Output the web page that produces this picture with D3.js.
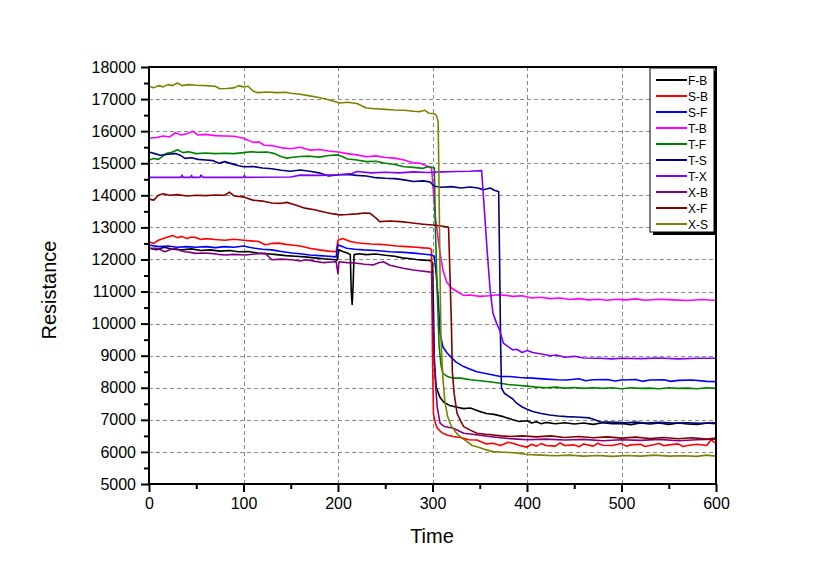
<!DOCTYPE html>
<html>
<head>
<meta charset="utf-8">
<script src="https://cdn.jsdelivr.net/npm/d3@7"></script>
<style>
  body { margin: 0; background: #fff; }
  svg { display: block; font-family: Arial, "Liberation Sans", sans-serif; }
</style>
</head>
<body>
<svg id="chart" width="832" height="581"></svg>
<script>
// ---------- data ----------
const seriesNames = ["F-B", "S-B", "S-F", "T-B", "T-F", "T-S", "T-X", "X-B", "X-F", "X-S"];
const seriesColors = ["#000000", "#FF0000", "#0000FF", "#FF00FF", "#008000", "#000080", "#8000FF", "#800080", "#800000", "#808000"];
const xTicks = [0, 100, 200, 300, 400, 500, 600];
const yTicks = [5000, 6000, 7000, 8000, 9000, 10000, 11000, 12000, 13000, 14000, 15000, 16000, 17000, 18000];

const FB = [[0,12350],[8,12300],[16,12380],[25,12320],[35,12300],[45,12330],[55,12280],[65,12300],[75,12260],[85,12280],[95,12240],[105,12250],[115,12200],[125,12180],[135,12150],[145,12120],[155,12100],[165,12080],[175,12050],[185,12020],[195,12000],[199,11980],[201,12300],[205,12250],[210,12200],[213,12150],[214,11000],[215,10600],[216,11200],[217,12150],[222,12180],[230,12150],[240,12170],[250,12130],[260,12100],[268,12050],[275,12030],[283,12000],[290,11980],[297,11970],[300,11900],[301,10500],[302,8800],[304,8000],[306,7850],[308,7700],[312,7550],[318,7450],[325,7400],[333,7350],[340,7370],[348,7280],[357,7200],[365,7170],[375,7100],[385,7000],[392,6950],[400,6970],[405,6900],[410,6940],[415,6880],[420,6920],[430,6880],[440,6910],[450,6870],[460,6900],[470,6860],[480,6910],[490,6880],[500,6890],[510,6850],[520,6900],[530,6870],[540,6900],[550,6860],[560,6900],[570,6870],[580,6860],[590,6900],[600,6880]];
const SB = [[0,12550],[5,12500],[10,12600],[15,12650],[20,12700],[25,12750],[30,12680],[35,12720],[40,12650],[45,12700],[50,12680],[55,12620],[60,12650],[70,12620],[80,12600],[90,12630],[100,12600],[108,12580],[116,12560],[123,12460],[130,12500],[137,12510],[145,12470],[151,12450],[160,12420],[170,12350],[180,12300],[190,12260],[198,12240],[200,12600],[205,12650],[213,12560],[220,12520],[227,12500],[235,12480],[245,12470],[252,12450],[262,12420],[273,12400],[283,12380],[290,12360],[297,12350],[299,12300],[300,9000],[301,7200],[303,6900],[305,6750],[308,6650],[311,6580],[316,6520],[322,6480],[330,6450],[338,6380],[347,6370],[357,6250],[364,6270],[372,6200],[380,6300],[385,6270],[392,6200],[400,6150],[405,6240],[410,6180],[415,6260],[420,6200],[430,6180],[435,6280],[440,6200],[450,6220],[455,6160],[460,6250],[470,6180],[475,6270],[480,6210],[490,6200],[500,6260],[505,6180],[510,6220],[520,6240],[525,6170],[530,6200],[540,6260],[545,6190],[550,6220],[560,6250],[565,6170],[570,6200],[580,6240],[590,6200],[595,6380],[600,6250]];
const SF = [[0,12450],[10,12400],[20,12420],[30,12380],[40,12400],[50,12380],[60,12400],[70,12370],[80,12400],[90,12380],[100,12420],[106,12380],[112,12350],[120,12320],[130,12300],[140,12250],[151,12200],[160,12180],[170,12140],[180,12120],[190,12100],[198,12080],[200,12450],[205,12400],[209,12350],[218,12320],[227,12300],[240,12280],[255,12240],[270,12220],[283,12190],[292,12160],[299,12140],[302,12100],[304,11500],[306,10800],[308,9700],[311,9280],[315,9100],[319,8970],[325,8800],[333,8660],[340,8580],[347,8500],[355,8450],[364,8400],[372,8350],[382,8350],[392,8320],[406,8300],[420,8270],[432,8250],[442,8240],[455,8280],[462,8220],[470,8250],[485,8260],[493,8210],[500,8240],[515,8260],[522,8200],[530,8240],[545,8250],[552,8200],[560,8230],[575,8240],[590,8200],[600,8190]];
const TB = [[0,15780],[8,15800],[15,15850],[22,15820],[28,15950],[34,15880],[40,15920],[46,16000],[52,15880],[60,15900],[70,15860],[80,15850],[90,15840],[100,15780],[105,15720],[110,15650],[117,15660],[122,15560],[130,15550],[140,15480],[150,15450],[160,15500],[170,15410],[180,15430],[190,15380],[200,15350],[210,15300],[220,15260],[230,15200],[240,15230],[250,15180],[260,15160],[270,15100],[280,15010],[287,15000],[295,14900],[299,14850],[303,13330],[307,12400],[311,11670],[315,11300],[320,11110],[326,11000],[333,10880],[340,10890],[350,10850],[360,10870],[370,10900],[378,10880],[385,10850],[395,10870],[405,10800],[415,10820],[425,10780],[435,10800],[445,10750],[455,10780],[465,10740],[475,10760],[485,10730],[495,10760],[505,10740],[515,10770],[525,10730],[540,10760],[555,10740],[570,10720],[585,10750],[600,10720]];
const TF = [[0,15100],[5,15150],[10,15120],[18,15300],[25,15350],[30,15420],[36,15330],[42,15360],[50,15300],[60,15320],[70,15300],[80,15310],[90,15300],[100,15330],[108,15360],[115,15340],[125,15350],[133,15300],[140,15200],[146,15160],[150,15180],[160,15210],[170,15220],[180,15190],[190,15240],[200,15260],[205,15200],[210,15130],[220,15100],[230,15050],[240,15060],[250,15000],[260,14960],[270,14890],[280,14870],[290,14840],[296,14900],[302,14850],[303,13000],[305,11000],[307,9300],[309,8700],[311,8450],[316,8350],[322,8300],[330,8300],[340,8250],[350,8220],[360,8190],[370,8150],[380,8100],[390,8080],[400,8050],[410,8020],[420,8000],[430,8020],[440,7990],[450,8010],[460,7980],[470,8000],[480,7980],[490,8000],[500,7970],[510,8000],[520,7980],[530,7990],[540,7970],[550,8000],[560,7980],[570,7990],[580,7970],[590,8000],[600,7980]];
const TS = [[0,15350],[6,15300],[12,15250],[20,15280],[28,15300],[33,15250],[38,15150],[45,15170],[52,15120],[60,15100],[68,15080],[74,15000],[80,15050],[88,14980],[95,14920],[100,14890],[110,14900],[120,14850],[130,14830],[140,14780],[150,14750],[160,14790],[170,14750],[180,14700],[190,14600],[200,14640],[210,14650],[220,14620],[230,14600],[240,14550],[250,14530],[260,14520],[270,14480],[280,14430],[290,14450],[297,14420],[299,14370],[302,14280],[310,14250],[320,14270],[330,14230],[340,14260],[348,14230],[354,14170],[361,14230],[366,14150],[370,14120],[371,12000],[372,9500],[373,8000],[376,7830],[380,7750],[385,7650],[389,7520],[395,7400],[400,7330],[406,7260],[415,7200],[424,7150],[433,7120],[442,7100],[452,7090],[466,7060],[472,7000],[477,6940],[485,6930],[495,6920],[505,6910],[515,6930],[525,6900],[540,6920],[555,6900],[570,6910],[585,6890],[600,6910]];
const TX = [[0,14560],[20,14560],[34,14560],[35,14630],[36,14560],[44,14560],[45,14620],[46,14560],[54,14560],[55,14630],[57,14560],[100,14560],[101,14620],[102,14560],[150,14570],[160,14630],[180,14620],[200,14640],[215,14680],[220,14740],[235,14700],[250,14720],[265,14700],[280,14730],[295,14710],[310,14730],[325,14740],[340,14750],[352,14770],[355,13500],[358,12200],[361,11050],[364,10320],[368,10000],[371,9800],[375,9390],[380,9280],[385,9180],[389,9200],[395,9100],[400,9160],[406,9100],[415,9050],[425,9000],[431,9020],[440,8950],[450,8980],[460,8930],[477,8920],[490,8900],[500,8920],[520,8910],[540,8930],[560,8900],[580,8920],[600,8920]];
const XB = [[0,12350],[7,12350],[12,12300],[17,12240],[22,12300],[28,12350],[33,12280],[38,12240],[44,12220],[49,12190],[57,12200],[65,12190],[73,12160],[81,12140],[90,12160],[102,12140],[112,12170],[123,12190],[130,11990],[140,12010],[151,11990],[160,11950],[167,11990],[176,11940],[185,11900],[193,11920],[198,11930],[200,11550],[201,11930],[210,11900],[220,11880],[228,11850],[237,11830],[243,11900],[248,11930],[255,11820],[262,11770],[270,11720],[280,11670],[288,11640],[294,11620],[299,11600],[301,9500],[303,8200],[305,7400],[308,6900],[312,6800],[318,6760],[322,6740],[328,6650],[333,6580],[340,6560],[350,6520],[360,6480],[370,6450],[380,6420],[390,6400],[400,6380],[420,6400],[440,6370],[460,6390],[480,6350],[500,6380],[520,6360],[540,6390],[560,6350],[580,6380],[600,6400]];
const XF = [[0,13880],[5,13850],[10,14000],[15,14050],[22,14000],[30,14020],[40,13980],[50,14000],[60,13990],[70,14010],[80,14000],[85,14100],[90,13980],[100,13950],[110,13850],[120,13820],[130,13760],[140,13750],[146,13780],[155,13700],[165,13600],[175,13550],[185,13480],[195,13420],[202,13390],[210,13400],[220,13420],[228,13450],[234,13440],[240,13300],[244,13180],[255,13200],[266,13180],[275,13150],[281,13130],[290,13100],[297,13080],[305,13060],[313,13030],[317,13000],[318,12000],[320,10000],[321,8500],[323,7800],[326,7200],[330,6950],[333,6790],[340,6680],[347,6580],[356,6550],[364,6530],[373,6500],[382,6480],[395,6500],[410,6470],[425,6500],[440,6450],[455,6480],[470,6440],[485,6470],[500,6430],[515,6460],[530,6420],[545,6450],[560,6410],[575,6440],[590,6400],[600,6430]];
const XS = [[0,17400],[5,17350],[10,17420],[15,17380],[20,17450],[25,17420],[30,17500],[35,17420],[42,17450],[50,17430],[60,17420],[70,17400],[75,17320],[82,17330],[90,17350],[95,17420],[100,17380],[105,17400],[110,17250],[115,17200],[125,17220],[135,17200],[145,17210],[150,17180],[160,17150],[170,17100],[180,17050],[190,16980],[202,16880],[210,16900],[220,16860],[230,16720],[240,16700],[250,16680],[260,16660],[270,16650],[280,16620],[287,16610],[292,16650],[296,16560],[301,16550],[304,16500],[306,16300],[307,14000],[308,11500],[309,9500],[311,8300],[313,7600],[316,7100],[320,6800],[325,6600],[329,6480],[335,6350],[342,6200],[347,6160],[355,6080],[364,6010],[375,5990],[389,5970],[400,5920],[415,5900],[430,5880],[445,5900],[460,5870],[475,5890],[490,5860],[505,5890],[520,5870],[535,5900],[550,5870],[565,5880],[580,5860],[590,5900],[600,5870]];
const seriesData = [FB, SB, SF, TB, TF, TS, TX, XB, XF, XS];

// ---------- layout ----------
const svg = d3.select("#chart");
const mLeft = 149, mRight = 716, mTop = 67, mBottom = 484;

const x = d3.scaleLinear().domain([0, 600]).range([mLeft, mRight]);
const y = d3.scaleLinear().domain([5000, 18000]).range([mBottom, mTop]);

svg.append("rect").attr("width", 832).attr("height", 581).attr("fill", "#fff");

// grid
const grid = svg.append("g").attr("stroke", "#8c8c8c").attr("stroke-width", 1).attr("stroke-dasharray", "4,3");
xTicks.filter(d => d > 0 && d < 600).forEach(d => {
  grid.append("line").attr("x1", Math.round(x(d)) + 0.5).attr("x2", Math.round(x(d)) + 0.5).attr("y1", mTop).attr("y2", mBottom);
});
yTicks.filter(d => d > 5000 && d < 18000).forEach(d => {
  grid.append("line").attr("y1", Math.round(y(d)) + 0.5).attr("y2", Math.round(y(d)) + 0.5).attr("x1", mLeft).attr("x2", mRight);
});

// lines
svg.append("clipPath").attr("id", "clip").append("rect")
  .attr("x", mLeft).attr("y", mTop).attr("width", mRight - mLeft).attr("height", mBottom - mTop);
const line = d3.line().x(d => x(d[0])).y(d => y(d[1]));
const lines = svg.append("g").attr("clip-path", "url(#clip)");
seriesData.forEach((s, i) => {
  lines.append("path").datum(s).attr("d", line)
    .attr("fill", "none").attr("stroke", seriesColors[i]).attr("stroke-width", 1.6)
    .attr("stroke-linejoin", "round");
});

// axes
const xMinor = d3.range(0, 601, 50);
const yMinor = d3.range(5000, 18001, 500);
const xAxis = d3.axisBottom(x).tickValues(xTicks).tickSize(8).tickPadding(6).tickFormat(d3.format("d"));
const yAxis = d3.axisLeft(y).tickValues(yTicks).tickSize(8).tickPadding(5).tickFormat(d3.format("d"));

const gx = svg.append("g").attr("transform", `translate(0,${mBottom})`).call(xAxis);
const gy = svg.append("g").attr("transform", `translate(${mLeft},0)`).call(yAxis);
[gx, gy].forEach(g => {
  g.select(".domain").remove();
  g.selectAll(".tick line").attr("stroke", "#000").attr("stroke-width", 2);
  g.selectAll(".tick text").attr("fill", "#000").style("font-size", "16px").style("font-family", "Arial, 'Liberation Sans', sans-serif");
});
svg.append("g").attr("transform", `translate(0,${mBottom})`)
  .call(d3.axisBottom(x).tickValues(xMinor.filter(d => d % 100 !== 0)).tickSize(5).tickFormat(""))
  .call(g => { g.select(".domain").remove(); g.selectAll("line").attr("stroke", "#000").attr("stroke-width", 2); });
svg.append("g").attr("transform", `translate(${mLeft},0)`)
  .call(d3.axisLeft(y).tickValues(yMinor.filter(d => d % 1000 !== 0)).tickSize(5).tickFormat(""))
  .call(g => { g.select(".domain").remove(); g.selectAll("line").attr("stroke", "#000").attr("stroke-width", 2); });

// frame
svg.append("rect").attr("x", mLeft).attr("y", mTop).attr("width", mRight - mLeft).attr("height", mBottom - mTop)
  .attr("fill", "none").attr("stroke", "#000").attr("stroke-width", 2);

// axis titles
svg.append("text").attr("x", 432).attr("y", 543).attr("text-anchor", "middle")
  .style("font-size", "20px").text("Time");
svg.append("text").attr("transform", "translate(56,290) rotate(-90)").attr("text-anchor", "middle")
  .style("font-size", "20px").text("Resistance");

// legend
const lg = svg.append("g");
const lx = 650, ly = 68, lw = 64, lh = 164;
lg.append("rect").attr("x", lx + 3).attr("y", ly + 3).attr("width", lw).attr("height", lh).attr("fill", "#000");
lg.append("rect").attr("x", lx).attr("y", ly).attr("width", lw).attr("height", lh).attr("fill", "#fff")
  .attr("stroke", "#000").attr("stroke-width", 1);
seriesNames.forEach((n, i) => {
  const yy = ly + 12 + i * 16;
  lg.append("line").attr("x1", lx + 6).attr("x2", lx + 37).attr("y1", yy).attr("y2", yy)
    .attr("stroke", seriesColors[i]).attr("stroke-width", 2);
  lg.append("text").attr("x", lx + 38).attr("y", yy + 4.5).style("font-size", "12px").text(n);
});
</script>
</body>
</html>
